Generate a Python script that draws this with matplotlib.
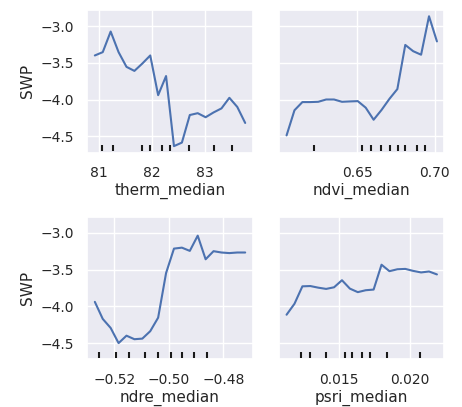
import numpy as np
import seaborn as sns
from matplotlib import pyplot as plt

sns.set_theme(style="darkgrid")

# partial dependence curves (20 grid points per feature)
therm_grid = np.linspace(80.926, 83.753, 20)
therm_pd = [-3.40, -3.355, -3.075, -3.355, -3.555, -3.61, -3.51, -3.40, -3.94, -3.68,
            -4.633, -4.585, -4.21, -4.185, -4.24, -4.175, -4.12, -3.976, -4.10, -4.318]
therm_deciles = [81.068, 81.265, 81.809, 81.957, 82.198, 82.333, 82.704, 83.173, 83.5]

ndvi_grid = np.linspace(0.6046, 0.70128, 20)
ndvi_pd = [-4.487, -4.145, -4.034, -4.034, -4.03, -3.999, -3.999, -4.03, -4.025, -4.021,
           -4.11, -4.274, -4.141, -3.99, -3.857, -3.257, -3.342, -3.39, -2.867, -3.209]
ndvi_deciles = [0.62238, 0.65319, 0.65918, 0.66511, 0.67085, 0.67615, 0.68106, 0.68852, 0.69381]

ndre_grid = np.linspace(-0.52711, -0.47205, 20)
ndre_pd = [-3.939, -4.171, -4.294, -4.5, -4.399, -4.447, -4.439, -4.338, -4.154, -3.548,
           -3.215, -3.202, -3.246, -3.039, -3.36, -3.25, -3.268, -3.276, -3.268, -3.268]
ndre_deciles = [-0.52566, -0.51952, -0.5147, -0.50892, -0.50386, -0.4994, -0.4953, -0.49096, -0.48614]

psri_grid = np.linspace(0.011244, 0.021948, 20)
psri_pd = [-4.114, -3.965, -3.728, -3.724, -3.746, -3.763, -3.741, -3.645, -3.759, -3.807,
           -3.781, -3.772, -3.434, -3.522, -3.496, -3.491, -3.518, -3.539, -3.526, -3.566]
psri_deciles = [0.012254, 0.012911, 0.014038, 0.015423, 0.015869, 0.016596, 0.017160, 0.018380, 0.020775]

features = [
    ("therm_median", therm_grid, therm_pd, therm_deciles),
    ("ndvi_median", ndvi_grid, ndvi_pd, ndvi_deciles),
    ("ndre_median", ndre_grid, ndre_pd, ndre_deciles),
    ("psri_median", psri_grid, psri_pd, psri_deciles),
]

all_pd = np.concatenate([therm_pd, ndvi_pd, ndre_pd, psri_pd])
span = all_pd.max() - all_pd.min()
ylim = (all_pd.min() - 0.05 * span, all_pd.max() + 0.05 * span)

fig = plt.figure(figsize=(4.62, 4.07), dpi=100)
positions = [
    [0.189, 0.625, 0.358, 0.351],
    [0.604, 0.625, 0.358, 0.351],
    [0.189, 0.117, 0.358, 0.351],
    [0.604, 0.117, 0.358, 0.351],
]

for i, (name, grid, pd_vals, deciles) in enumerate(features):
    ax = fig.add_axes(positions[i])
    ax.plot(grid, pd_vals, color="#4c72b0", lw=1.5)
    trans = ax.get_xaxis_transform()
    ax.vlines(deciles, 0.01, 0.05, transform=trans, color="k", lw=1.5)
    ax.set_ylim(ylim)
    ax.set_yticks([-3.0, -3.5, -4.0, -4.5])
    ax.set_xlabel(name, fontsize=11, color=".15", labelpad=2)
    ax.tick_params(labelsize=10, colors=".15")
    if i % 2 == 0:
        ax.set_ylabel("SWP", fontsize=11, color=".15")
    else:
        ax.tick_params(labelleft=False)

fig.axes[0].set_xticks([81, 82, 83])
fig.axes[1].set_xticks([0.65, 0.70])
fig.axes[2].set_xticks([-0.52, -0.50, -0.48])
fig.axes[3].set_xticks([0.015, 0.020])

fig.savefig("out.png", dpi=100)
